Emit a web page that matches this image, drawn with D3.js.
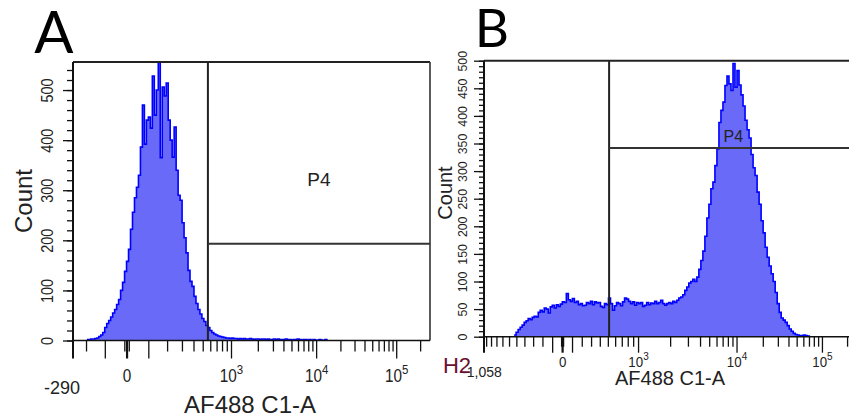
<!DOCTYPE html>
<html>
<head>
<meta charset="utf-8">
<script src="https://cdn.jsdelivr.net/npm/d3@7"></script>
<style>
  body { margin: 0; background: #fff; }
  svg text { font-family: "Liberation Sans", Arial, sans-serif; fill: #222; }
</style>
</head>
<body>
<svg id="chart" width="849" height="419"></svg>
<script>
// histogram counts, one value per display bin, starting at the first non-empty bin
const aFirstBin = 7;
const aCounts = [2,2,3,3,4,5,
  8,11,16,26,34,40,47,55,62,72,
  82,100,116,138,158,182,222,256,285,306,
  330,386,470,392,440,446,424,528,450,500,
  556,365,506,488,514,440,400,366,426,340,
  290,280,235,205,175,140,118,108,88,74,
  62,53,44,38,30,26,20,16,13,11,
  9,8,7,6,
  5,5,4,5,4,4,3,4,3,4,3,3,4,3,2,3,3,2,3,3,2,3,2,2,3,2,3,2,2,2,3,2,2,1,2,2,3,2,1,2,2,1,2,0,2,1,0,2,1,0,2];
const bFirstBin = 15;
const bCounts = [3,8,13,17,21,26,29,33,31,35,
  37,36,44,48,45,52,50,43,54,57,
  52,58,55,59,63,62,78,67,64,69,
  62,64,58,60,56,57,62,60,64,58,
  63,61,62,55,53,60,58,70,60,48,
  56,62,60,56,63,70,68,64,60,63,
  57,62,60,62,55,57,62,58,61,60,
  64,60,62,66,60,57,60,62,60,64,
  62,66,70,72,76,84,90,97,100,104,
  100,108,122,138,155,182,215,240,268,280,
  310,340,388,410,425,455,472,458,446,495,
  452,482,456,438,418,392,375,360,330,306,
  292,262,240,210,188,162,144,128,114,100,
  80,60,44,34,30,26,20,14,10,6,
  4,3,2,2,3,2,1];

const aYMajor = [0, 100, 200, 300, 400, 500];
const bYMajor = [0, 50, 100, 150, 200, 250, 300, 350, 400, 450, 500];
const decades = [3, 4, 5];
const aMin = -290, bMin = -1058;
const aMinLabel = "-290", bMinLabel = "-1,058";
const aGate = { low: 560, count: 193 };
const bGate = { low: 510, count: 342 };
const gateName = "P4";

const T = 262144, M = 4.5;

// logicle (biexponential) transform, width chosen so the bottom of the display equals xmin
function logicle(xmin) {
  const pOf = W => {
    let lo = 1.0000001, hi = 1000;
    for (let i = 0; i < 80; i++) {
      const m = (lo + hi) / 2;
      if (2 * m * Math.log10(m) / (m + 1) < W) lo = m; else hi = m;
    }
    return (lo + hi) / 2;
  };
  const make = W => {
    const p = pOf(W), k = T * Math.pow(10, W - M);
    const S = y => y >= W
      ? k * (Math.pow(10, y - W) - p * p * Math.pow(10, -(y - W) / p) + p * p - 1)
      : -S(2 * W - y);
    return S;
  };
  let lo = 0.05, hi = 2.5;
  for (let i = 0; i < 60; i++) {
    const m = (lo + hi) / 2;
    if (make(m)(2 * m) < -xmin) lo = m; else hi = m;
  }
  const S = make((lo + hi) / 2);
  return x => {
    let a = 0, b = M;
    for (let i = 0; i < 60; i++) {
      const m = (a + b) / 2;
      if (S(m) < x) a = m; else b = m;
    }
    return (a + b) / 2;
  };
}

function biexTicks(xmin) {
  const v = [0, 10, -10];
  for (let n = 2; n <= 5; n++)
    for (let m = 1; m <= 9; m++) v.push(m * Math.pow(10, n), -m * Math.pow(10, n));
  return v.filter(d => d >= xmin && d <= T);
}

const svg = d3.select("#chart");

function drawPanel(c) {
  const fwd = logicle(c.xmin);
  const lin = d3.scaleLinear().domain([0, M]).range([c.left, c.right]);
  const x = v => lin(fwd(v));
  const y = d3.scaleLinear().domain([0, c.ymax]).range([c.bottom, c.top]);

  const g = svg.append("g");
  const clipId = "clip" + c.name;
  svg.append("clipPath").attr("id", clipId)
    .append("rect").attr("x", c.left).attr("y", c.top - 2)
    .attr("width", Math.min(c.right, 849) - c.left).attr("height", c.bottom - c.top + 2);

  // histogram as steps over display bins
  const pts = [];
  const bw = M / c.bins;
  c.counts.forEach((n, i) => pts.push({ e: (c.first + i) * bw, n }));
  pts.push({ e: (c.first + c.counts.length) * bw, n: 0 });
  const area = d3.area().curve(d3.curveStepAfter)
    .x(d => lin(d.e)).y0(y(0)).y1(d => y(d.n));
  const line = d3.line().curve(d3.curveStepAfter)
    .x(d => lin(d.e)).y(d => y(d.n));
  const hist = g.append("g").attr("clip-path", `url(#${clipId})`);
  hist.append("path").datum(pts).attr("d", area).attr("fill", "#6a6af8");
  hist.append("path").datum(pts).attr("d", line)
    .attr("fill", "none").attr("stroke", "#0000ff").attr("stroke-width", 1.6);

  // frame
  const right = Math.min(c.right, 849);
  g.append("line").attr("x1", c.left).attr("x2", right).attr("y1", c.top).attr("y2", c.top)
    .attr("stroke", "#222").attr("stroke-width", 2);
  if (c.right <= 849)
    g.append("line").attr("x1", c.right).attr("x2", c.right).attr("y1", c.top).attr("y2", c.bottom)
      .attr("stroke", "#333").attr("stroke-width", 1.6);

  // gate
  const gx = x(c.gate.low);
  g.append("line").attr("x1", gx).attr("x2", gx).attr("y1", c.top).attr("y2", c.bottom)
    .attr("stroke", "#222").attr("stroke-width", 2);
  g.append("line").attr("x1", gx).attr("x2", right).attr("y1", y(c.gate.count)).attr("y2", y(c.gate.count))
    .attr("stroke", "#333").attr("stroke-width", 2);
  g.append("text").attr("x", (gx + c.right) / 2).attr("y", y(c.gate.count) + c.gateDy)
    .attr("text-anchor", "middle").style("font-size", c.gateFont + "px").text(gateName);

  // y axis: major and minor ticks
  const minor = d3.range(0, c.ymax + 0.001, c.yMinorStep);
  g.append("g").attr("transform", `translate(${c.left},0)`)
    .call(d3.axisLeft(y).tickValues(minor).tickSize(c.yMinorLen).tickFormat(""))
    .call(a => a.select(".domain").remove());
  const yAx = g.append("g").attr("transform", `translate(${c.left},0)`)
    .call(d3.axisLeft(y).tickValues(c.yMajor).tickSize(c.yMajorLen).tickFormat(d3.format("d")));
  yAx.select(".domain").remove();
  yAx.selectAll("text")
    .attr("x", null).attr("dy", null).attr("y", -c.yLabelOff)
    .attr("text-anchor", "middle")
    .attr("transform", `rotate(-90) scale(${c.labelSqueeze},1)`)
    .style("font-size", c.yTickFont + "px").style("fill", "#222");
  g.selectAll(".tick line").attr("stroke", "#111").attr("stroke-width", 1.3);
  g.append("line").attr("x1", c.left).attr("x2", c.left).attr("y1", c.top).attr("y2", c.bottom + c.xMajorLen)
    .attr("stroke", "#111").attr("stroke-width", 2);

  // x axis
  g.append("line").attr("x1", c.left).attr("x2", right).attr("y1", c.bottom).attr("y2", c.bottom)
    .attr("stroke", "#111").attr("stroke-width", 1.6);
  const isMajor = d => d === 0 || Math.abs(d) === 100 || decades.some(p => d === Math.pow(10, p));
  g.append("g").selectAll("line").data(biexTicks(c.xmin).filter(d => x(d) <= 849)).join("line")
    .attr("x1", d => x(d)).attr("x2", d => x(d))
    .attr("y1", c.bottom).attr("y2", d => c.bottom + (isMajor(d) ? c.xMajorLen : c.xMinorLen))
    .attr("stroke", "#111").attr("stroke-width", d => d === 0 ? 2.2 : 1.3);

  const lab = g.append("g").style("font-size", c.tickFont + "px");
  lab.append("text").attr("x", x(0)).attr("y", c.xLabelY).attr("text-anchor", "middle")
    .attr("transform", `translate(${x(0)},0) scale(${c.labelSqueeze},1) translate(${-x(0)},0)`).text("0");
  decades.forEach(p => {
    const px = x(Math.pow(10, p));
    const t = lab.append("text").attr("x", px).attr("y", c.xLabelY).attr("text-anchor", "middle")
      .attr("transform", `translate(${px},0) scale(${c.labelSqueeze},1) translate(${-px},0)`);
    t.append("tspan").text("10");
    t.append("tspan").attr("dy", -c.supRise).style("font-size", (c.tickFont * 0.75) + "px").text(p);
  });
  lab.append("text").attr("x", c.left + c.minLabelDx).attr("y", c.xLabelY + c.minLabelDrop)
    .attr("text-anchor", "middle").text(c.minLabel);

  // titles
  g.append("text").attr("x", c.titleX).attr("y", c.titleY).attr("text-anchor", "middle")
    .style("font-size", c.titleFont + "px").text("AF488 C1-A");
  g.append("text").attr("transform", `translate(${c.countX},${c.countY}) rotate(-90)`)
    .attr("text-anchor", "middle").style("font-size", c.titleFont + "px").text("Count");
  g.append("text").attr("x", c.letterX).attr("y", c.letterY).attr("text-anchor", "middle")
    .style("font-family", "Lato, 'Open Sans', sans-serif").style("font-size", c.letterFont + "px")
    .style("fill", "#000").text(c.name);
}

drawPanel({
  name: "A", xmin: aMin, minLabel: aMinLabel, counts: aCounts, first: aFirstBin, bins: 180,
  left: 73, right: 430, top: 62, bottom: 340.5, ymax: 556,
  yMajor: aYMajor, yMinorStep: 20, yMajorLen: 10, yMinorLen: 6, yLabelOff: 20,
  xMajorLen: 18, xMinorLen: 11, xLabelY: 382, supRise: 8, minLabelDx: -11, minLabelDrop: 12,
  tickFont: 18, yTickFont: 17, labelSqueeze: 0.85,
  gate: aGate, gateDy: -58, gateFont: 19,
  titleX: 250, titleY: 413, titleFont: 24, countX: 32, countY: 201,
  letterX: 54, letterY: 53, letterFont: 58
});

drawPanel({
  name: "B", xmin: bMin, minLabel: bMinLabel, counts: bCounts, first: bFirstBin, bins: 186,
  left: 484, right: 857.5, top: 60.7, bottom: 336.7, ymax: 500,
  yMajor: bYMajor, yMinorStep: 10, yMajorLen: 10, yMinorLen: 5, yLabelOff: 17,
  xMajorLen: 16, xMinorLen: 10, xLabelY: 367, supRise: 7, minLabelDx: -2, minLabelDrop: 10,
  tickFont: 14, yTickFont: 13, labelSqueeze: 0.95,
  gate: bGate, gateDy: -6, gateFont: 16,
  titleX: 670, titleY: 385, titleFont: 20, countX: 452, countY: 193,
  letterX: 492, letterY: 47, letterFont: 53
});

svg.append("text").attr("x", 457).attr("y", 373).attr("text-anchor", "middle")
  .style("font-size", "22px").style("fill", "#6a1030").text("H2");
</script>
</body>
</html>
